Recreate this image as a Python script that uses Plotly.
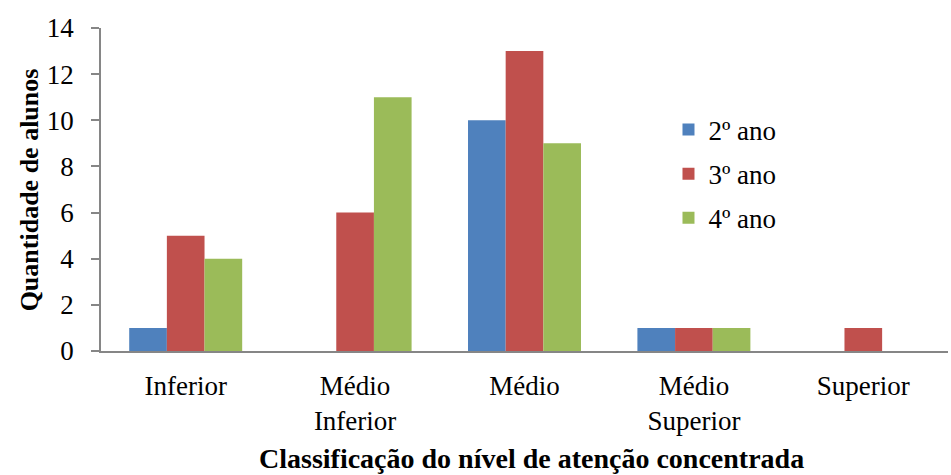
import plotly.graph_objects as go

# Students per attention-level class, by school year
categories = ["Inferior", "Médio<br>Inferior", "Médio", "Médio<br>Superior", "Superior"]
ano2 = [1, 0, 10, 1, 0]
ano3 = [5, 6, 13, 1, 1]
ano4 = [4, 11, 9, 1, 0]
series_names = ["2º ano", "3º ano", "4º ano"]
y_ticks = [0, 2, 4, 6, 8, 10, 12, 14]

colors = ["#4F81BD", "#C0504D", "#9BBB59"]
serif = "Times New Roman, Liberation Serif, serif"
axis_gray = "#868686"

fig = go.Figure()
for name, vals, col in zip(series_names, [ano2, ano3, ano4], colors):
    fig.add_trace(go.Bar(
        x=categories, y=vals, name=name,
        marker=dict(color=col, line=dict(width=0)),
        legendgroup=name,
    ))

fig.update_layout(
    width=951, height=475,
    margin=dict(l=101, r=3, t=28, b=124),
    paper_bgcolor="white", plot_bgcolor="white",
    barmode="group", bargap=0.333, bargroupgap=0,
    font=dict(family=serif, color="black", size=27),
    showlegend=True,
    legend=dict(
        x=0.67, y=0.76, xanchor="left", yanchor="top",
        font=dict(family=serif, size=27, color="black"),
        bgcolor="rgba(0,0,0,0)", tracegroupgap=6,
    ),
    xaxis=dict(
        showline=True, linecolor=axis_gray, linewidth=1.5,
        ticks="", showgrid=False, zeroline=False,
        tickfont=dict(family=serif, size=27, color="black"),
        ticklabelstandoff=10,
    ),
    yaxis=dict(
        range=[0, 14], tickvals=y_ticks,
        showline=True, linecolor=axis_gray, linewidth=1.5,
        ticks="outside", ticklen=8, tickcolor=axis_gray, tickwidth=1.5,
        showgrid=False, zeroline=False,
        tickfont=dict(family=serif, size=27, color="black"),
        ticklabelstandoff=12,
    ),
    annotations=[
        dict(text="<b>Classificação do nível de atenção concentrada</b>",
             xref="paper", yref="paper", x=0.508, y=-0.333,
             xanchor="center", yanchor="middle", showarrow=False,
             font=dict(family=serif, size=28, color="black")),
        dict(text="<b>Quantidade de alunos</b>",
             xref="paper", yref="paper", x=-0.084, y=0.5,
             xanchor="center", yanchor="middle", showarrow=False,
             textangle=-90,
             font=dict(family=serif, size=26, color="black")),
    ],
)

fig.write_html("out.html")
